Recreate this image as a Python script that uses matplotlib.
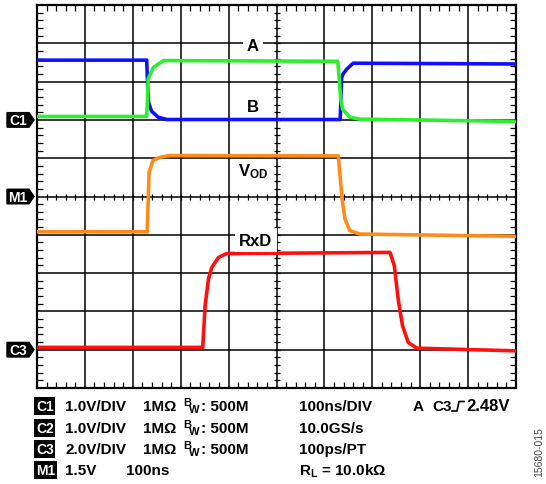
import numpy as np
import matplotlib
matplotlib.use("Agg")
import matplotlib.pyplot as plt
from matplotlib.patches import Polygon
from matplotlib.lines import Line2D
from matplotlib.transforms import blended_transform_factory

plt.rcParams['font.family'] = ['Liberation Sans', 'DejaVu Sans']
plt.rcParams['font.weight'] = 'bold'
plt.rcParams['mathtext.fontset'] = 'custom'
plt.rcParams['mathtext.rm'] = 'Liberation Sans:bold'
plt.rcParams['mathtext.bf'] = 'Liberation Sans:bold'
plt.rcParams['mathtext.it'] = 'Liberation Sans:bold'

# traces, in scope divisions (x: 0..10, y: 0..10)
blue_t = [0, 2.29, 2.31, 2.33, 2.39, 2.53, 2.71, 6.33, 6.36, 6.39, 6.47, 6.60, 10]
blue_v = [8.56, 8.56, 7.9, 7.45, 7.23, 7.07, 7.01, 7.01, 8.10, 8.20, 8.33, 8.48, 8.46]

green_t = [0, 2.29, 2.31, 2.32, 2.43, 2.64, 6.28, 6.30, 6.34, 6.38, 6.53, 6.74, 10]
green_v = [7.09, 7.09, 7.6, 8.07, 8.37, 8.55, 8.53, 8.2, 7.55, 7.28, 7.07, 7.02, 6.96]

orange_t = [0, 2.30, 2.34, 2.42, 2.56, 2.77, 6.29, 6.37, 6.43, 6.53, 6.74, 10]
orange_v = [4.08, 4.08, 5.63, 5.94, 6.02, 6.07, 6.06, 4.93, 4.41, 4.11, 4.02, 3.96]

red_t = [0, 3.46, 3.51, 3.58, 3.65, 3.79, 3.96, 7.37, 7.46, 7.54, 7.63, 7.75, 7.93, 10]
red_v = [1.06, 1.06, 2.15, 2.85, 3.15, 3.41, 3.51, 3.54, 3.19, 2.32, 1.63, 1.19, 1.04, 0.97]

marker_names = ['C1', 'M1', 'C3']
marker_levels = [7, 5, 1]

W, H = 546, 485
def fx(x):
    return x / W
def fy(y):
    return 1 - y / H

fig = plt.figure(figsize=(W / 100, H / 100), dpi=100)
ax = fig.add_axes([fx(37), fy(389), (516 - 37) / W, (389 - 6) / H])
ax.set_xlim(0, 10)
ax.set_ylim(0, 10)

# grid
ax.set_xticks(range(11))
ax.set_yticks(range(11))
minor = np.arange(0, 10.01, 0.2)
ax.set_xticks(minor, minor=True)
ax.set_yticks(minor, minor=True)
ax.tick_params(which='both', labelbottom=False, labelleft=False)
ax.tick_params(which='major', length=0)
ax.tick_params(which='minor', direction='in', length=4, width=0.9,
               top=True, right=True, color='black')
ax.grid(True, which='major', color='black', lw=1.1)
ax.set_axisbelow(True)
for s in ax.spines.values():
    s.set_linewidth(1.6)
# ticks on the centre lines
ax.plot(minor, np.full(len(minor), 5.0), ls='none', marker='|', ms=5, mew=0.9, color='black', zorder=2)
ax.plot(np.full(len(minor), 5.0), minor, ls='none', marker='_', ms=5, mew=0.9, color='black', zorder=2)

# traces
lw = 2.6
ax.plot(orange_t, orange_v, color='#ff8c1a', lw=lw, zorder=3)
ax.plot(red_t, red_v, color='#ff1010', lw=lw, zorder=3)
ax.plot(blue_t, blue_v, color='#1010ff', lw=lw, zorder=3)
ax.plot(green_t, green_v, color='#2cf02c', lw=lw, zorder=4)

# trace labels
box = dict(boxstyle='square,pad=0.25', fc='white', ec='none')
ax.text(4.51, 8.93, 'A', fontsize=12, ha='center', va='center', bbox=box, zorder=5)
ax.text(4.51, 7.36, 'B', fontsize=12, ha='center', va='center', zorder=5)
ax.text(4.19, 5.68, r'$\mathbf{V_{OD}}$', fontsize=12, ha='left', va='center', zorder=5)
ax.text(4.22, 3.86, 'RxD', fontsize=12, ha='left', va='center', bbox=box, zorder=5)

# channel markers on the left
trans = blended_transform_factory(fig.transFigure, ax.transData)
for name, lvl in zip(marker_names, marker_levels):
    h = 0.19
    poly = Polygon([(fx(7), lvl - h), (fx(29), lvl - h), (fx(34), lvl),
                    (fx(29), lvl + h), (fx(7), lvl + h)],
                   closed=True, transform=trans, fc='black', ec='black', clip_on=False)
    fig.add_artist(poly)
    fig.text(fx(18), lvl, name, transform=trans, color='white', fontsize=10,
             ha='center', va='center')

# settings readout
rows = [407, 429, 450, 471]
bbox_k = dict(boxstyle='square,pad=0.12', fc='black', ec='none')
left_tags = ['C1', 'C2', 'C3', 'M1']
volts = ['1.0V/DIV', '1.0V/DIV', '2.0V/DIV', '1.5V']
fs = 11
for i, y in enumerate(rows):
    fig.text(fx(36), fy(y), left_tags[i], color='white', fontsize=10, va='center', ha='left', bbox=bbox_k)
    fig.text(fx(65), fy(y), volts[i], fontsize=fs, va='center', ha='left')
    if i < 3:
        fig.text(fx(143), fy(y), '1MΩ', fontsize=fs, va='center', ha='left')
        fig.text(fx(183), fy(y - 4), 'B', fontsize=8, va='center', ha='left')
        fig.text(fx(189), fy(y + 3), 'W', fontsize=8, va='center', ha='left')
        fig.text(fx(201), fy(y), ': 500M', fontsize=fs, va='center', ha='left')
fig.text(fx(126), fy(rows[3]), '100ns', fontsize=fs, va='center', ha='left')

right_col = ['100ns/DIV', '10.0GS/s', '100ps/PT', r'R$_\mathbf{L}$ = 10.0kΩ']
for i, y in enumerate(rows):
    fig.text(fx(299), fy(y), right_col[i], fontsize=fs, va='center', ha='left')

fig.text(fx(413), fy(rows[0]), 'A', fontsize=fs, va='center', ha='left')
fig.text(fx(432), fy(rows[0]), 'C3', fontsize=fs, va='center', ha='left')
fig.add_artist(Line2D([fx(452), fx(457), fx(459), fx(464)],
                      [fy(412), fy(412), fy(402.5), fy(402.5)],
                      transform=fig.transFigure, color='black', lw=1.2))
fig.text(fx(466), fy(rows[0]), '2.48V', fontsize=12, va='center', ha='left')

fig.text(fx(539), fy(452), '15680-015', fontsize=7.5, fontweight='normal', color='#444444',
         rotation=90, ha='center', va='center')

fig.savefig('out.png', dpi=100)
